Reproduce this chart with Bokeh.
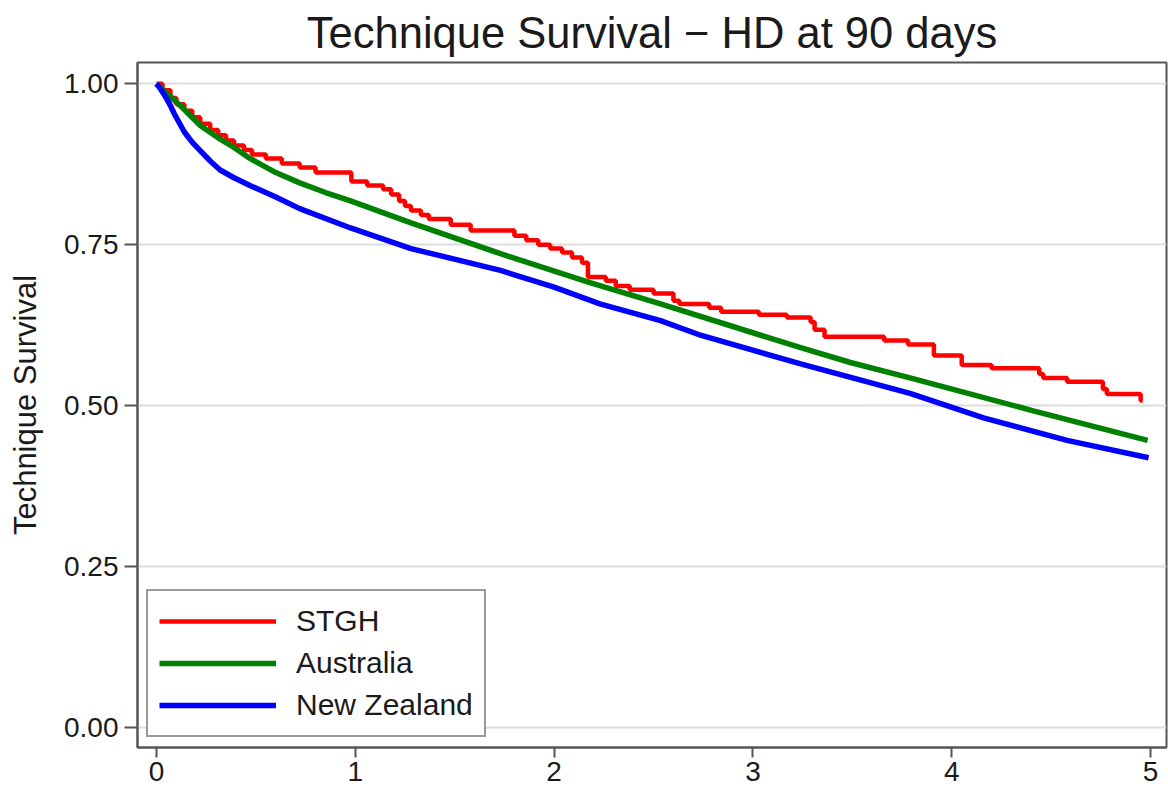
from bokeh.plotting import figure
from bokeh.models import FixedTicker, Range1d
from bokeh.embed import file_html
from bokeh.resources import INLINE

title_text = "Technique Survival \u2212 HD at 90 days"
y_label = "Technique Survival"
x_ticks = [0, 1, 2, 3, 4, 5]
y_ticks = [0.0, 0.25, 0.5, 0.75, 1.0]
y_tick_labels = ["0.00", "0.25", "0.50", "0.75", "1.00"]
series_names = ["STGH", "Australia", "New Zealand"]

stgh_t = [0.00, 0.03, 0.07, 0.10, 0.14, 0.18, 0.22, 0.27, 0.31, 0.35, 0.39, 0.44,
          0.48, 0.55, 0.63, 0.72, 0.80, 0.98, 1.06, 1.14, 1.18, 1.22, 1.25, 1.28,
          1.33, 1.37, 1.48, 1.58, 1.80, 1.86, 1.92, 1.98, 2.04, 2.09, 2.14, 2.17,
          2.26, 2.31, 2.38, 2.50, 2.60, 2.63, 2.78, 2.84, 3.03, 3.17, 3.29, 3.31,
          3.36, 3.66, 3.78, 3.91, 4.05, 4.20, 4.44, 4.46, 4.58, 4.76, 4.78, 4.95, 4.96]
stgh_s = [1.000, 0.990, 0.978, 0.968, 0.958, 0.948, 0.938, 0.928, 0.920, 0.912, 0.904, 0.897,
          0.890, 0.884, 0.876, 0.870, 0.862, 0.848, 0.842, 0.836, 0.828, 0.818, 0.810, 0.803,
          0.796, 0.790, 0.781, 0.772, 0.764, 0.757, 0.750, 0.744, 0.738, 0.730, 0.722, 0.700,
          0.694, 0.686, 0.680, 0.674, 0.663, 0.658, 0.652, 0.646, 0.641, 0.637, 0.630, 0.618,
          0.607, 0.601, 0.595, 0.578, 0.563, 0.558, 0.549, 0.543, 0.537, 0.526, 0.518, 0.508, 0.508]

aus_t = [0.00, 0.035, 0.07, 0.136, 0.22, 0.31, 0.39, 0.47, 0.60, 0.72, 0.85, 0.976,
         1.28, 1.73, 2.18, 2.535, 3.24, 3.49, 3.79, 4.41, 4.985]
aus_s = [1.000, 0.990, 0.980, 0.961, 0.935, 0.916, 0.901, 0.884, 0.862, 0.846, 0.831, 0.818,
         0.784, 0.736, 0.691, 0.658, 0.590, 0.567, 0.543, 0.492, 0.446]

nz_t = [0.00, 0.02, 0.045, 0.07, 0.09, 0.115, 0.14, 0.18, 0.22, 0.27, 0.32, 0.39, 0.47, 0.60, 0.72,
        0.976, 1.28, 1.73, 2.0, 2.23, 2.535, 2.74, 3.24, 3.79, 4.16, 4.58, 4.99]
nz_s = [1.000, 0.992, 0.980, 0.966, 0.953, 0.939, 0.925, 0.909, 0.896, 0.880, 0.866, 0.854, 0.842, 0.824, 0.806,
        0.776, 0.744, 0.710, 0.684, 0.658, 0.632, 0.609, 0.565, 0.519, 0.481, 0.446, 0.419]

FONT = "Liberation Sans"

p = figure(width=1168, height=790, output_backend="svg", toolbar_location=None,
           x_range=Range1d(-0.0956, 5.08), y_range=Range1d(-0.031, 1.033),
           min_border_left=137, min_border_top=62, min_border_bottom=43, min_border_right=2,
           background_fill_color="white", border_fill_color="white")

p.title.text = title_text
p.title.align = "center"
p.title.text_font = FONT
p.title.text_font_size = "43.5px"
p.title.text_font_style = "normal"
p.title.text_color = "#1a1a1a"
p.title.standoff = 12
p.title.offset = 0

p.step(stgh_t, stgh_s, mode="after", line_color="#ff0000", line_width=4.5,
       legend_label=series_names[0])
p.line(aus_t, aus_s, line_color="#008000", line_width=5.5, legend_label=series_names[1])
p.line(nz_t, nz_s, line_color="#0000ff", line_width=5.5, legend_label=series_names[2])

p.xgrid.visible = False
p.ygrid.ticker = FixedTicker(ticks=y_ticks)
p.ygrid.grid_line_color = "#dcdcdc"
p.ygrid.grid_line_width = 2

p.outline_line_color = "#555555"
p.outline_line_width = 2

p.xaxis.ticker = FixedTicker(ticks=x_ticks)
p.yaxis.ticker = FixedTicker(ticks=y_ticks)
p.yaxis.major_label_overrides = {t: l for t, l in zip(y_ticks, y_tick_labels)}
p.yaxis.axis_label = y_label

for ax in (p.xaxis[0], p.yaxis[0]):
    ax.axis_line_color = "#555555"
    ax.axis_line_width = 2
    ax.major_tick_line_color = "#555555"
    ax.major_tick_line_width = 2
    ax.major_tick_in = 0
    ax.minor_tick_line_color = None
    ax.major_label_text_font = FONT
    ax.major_label_text_font_size = "28px"
    ax.major_label_text_color = "#1a1a1a"
    ax.major_label_standoff = 6

p.xaxis.major_tick_out = 10
p.xaxis.major_label_standoff = 4
p.yaxis.major_tick_out = 13
p.yaxis.axis_label_text_font = FONT
p.yaxis.axis_label_text_font_size = "31px"
p.yaxis.axis_label_text_font_style = "normal"
p.yaxis.axis_label_text_color = "#1a1a1a"
p.yaxis.axis_label_standoff = 18

lg = p.legend[0]
lg.location = (9, 10)
lg.border_line_color = "#333333"
lg.border_line_width = 2
lg.background_fill_color = "white"
lg.background_fill_alpha = 1
lg.label_text_font = FONT
lg.label_text_font_size = "30px"
lg.label_text_color = "#1a1a1a"
lg.glyph_width = 117
lg.glyph_height = 38
lg.label_height = 38
lg.spacing = 4
lg.padding = 11
lg.label_standoff = 20
lg.margin = 0

open("out.html", "w").write(file_html(p, INLINE))
